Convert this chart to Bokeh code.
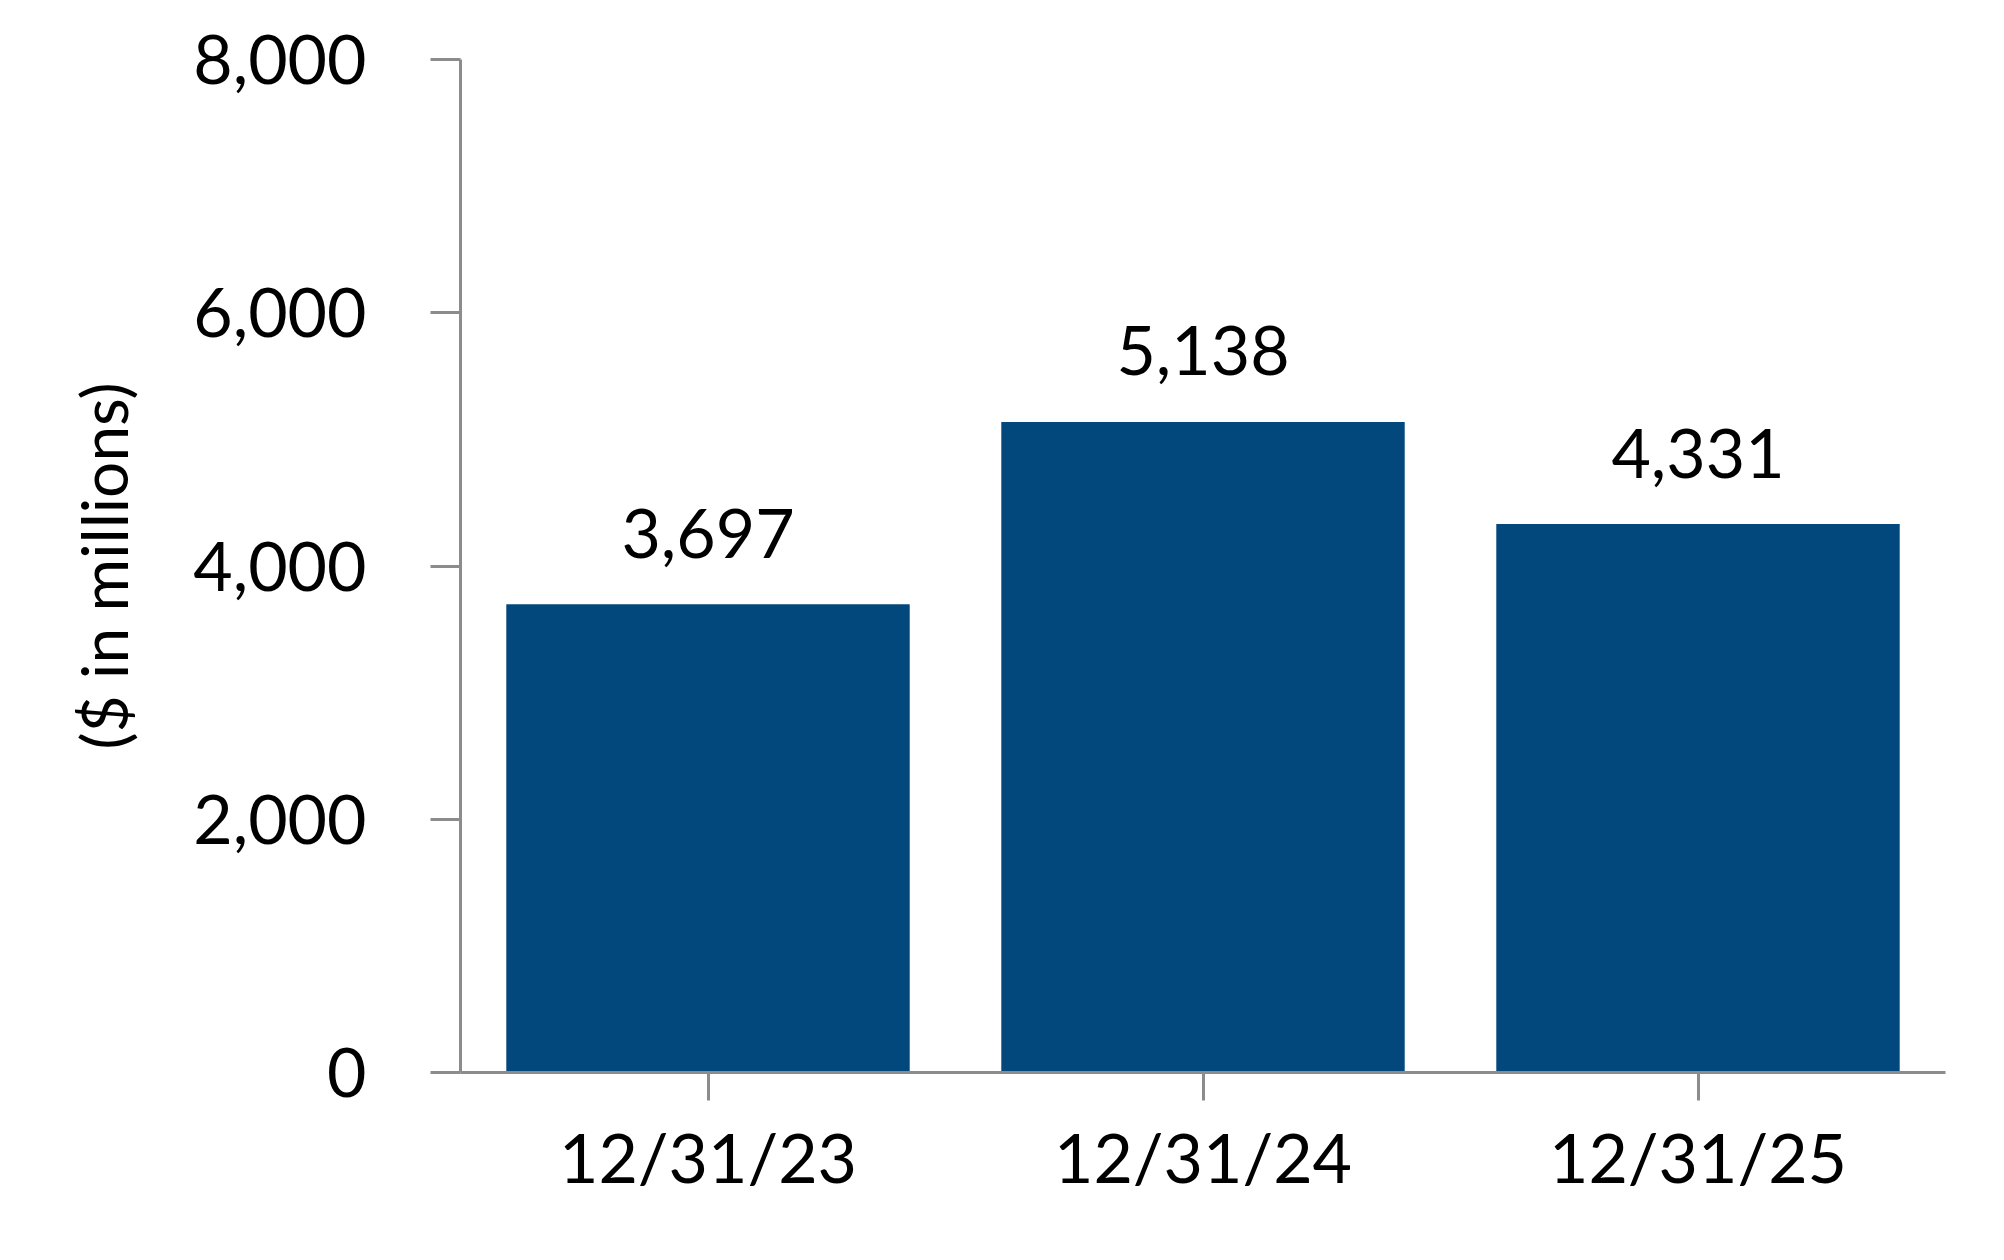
from bokeh.plotting import figure
from bokeh.models import Range1d, FactorRange, NumeralTickFormatter, ColumnDataSource, FixedTicker
from bokeh.core.properties import value
from bokeh.embed import file_html
from bokeh.resources import INLINE

categories = ["12/31/23", "12/31/24", "12/31/25"]
values = [3697, 5138, 4331]
labels = ["3,697", "5,138", "4,331"]
y_ticks = [0, 2000, 4000, 6000, 8000]

FONT = "Lato"
AXIS_COLOR = "#8c8c8c"
BAR_COLOR = "#03487c"

src = ColumnDataSource(dict(cat=categories, val=values, lab=labels))

p = figure(width=1988, height=1244, x_range=FactorRange(*categories, range_padding=0),
           y_range=Range1d(0, 8000), output_backend="svg", toolbar_location=None,
           min_border_left=460, min_border_right=43, min_border_top=59, min_border_bottom=172)
p.outline_line_color = None
p.xgrid.visible = False
p.ygrid.visible = False

p.vbar(x="cat", top="val", width=0.815, source=src, color=BAR_COLOR, line_color=None)
p.text(x="cat", y="val", text="lab", source=src, text_align="center", text_baseline="alphabetic",
       y_offset=-71, text_font=value(FONT), text_font_size="68px", text_color="black")

for ax in (p.xaxis[0], p.yaxis[0]):
    ax.axis_line_color = AXIS_COLOR
    ax.axis_line_width = 3
    ax.major_tick_line_color = AXIS_COLOR
    ax.major_tick_line_width = 3
    ax.minor_tick_line_color = None
    ax.major_tick_in = 0
    ax.major_label_text_font = FONT
    ax.major_label_text_font_size = "68px"
    ax.major_label_text_color = "black"

p.yaxis.ticker = FixedTicker(ticks=y_ticks)
p.yaxis.formatter = NumeralTickFormatter(format="0,0")
p.yaxis.major_tick_out = 30
p.yaxis.major_label_standoff = 64
p.yaxis.axis_label = "($ in millions)"
p.yaxis.axis_label_text_font = FONT
p.yaxis.axis_label_text_font_style = "normal"
p.yaxis.axis_label_text_font_size = "64px"
p.yaxis.axis_label_text_color = "black"
p.yaxis.axis_label_standoff = 48

p.xaxis.major_tick_out = 28
p.xaxis.major_label_standoff = 15

open("out.html", "w").write(file_html(p, INLINE))
